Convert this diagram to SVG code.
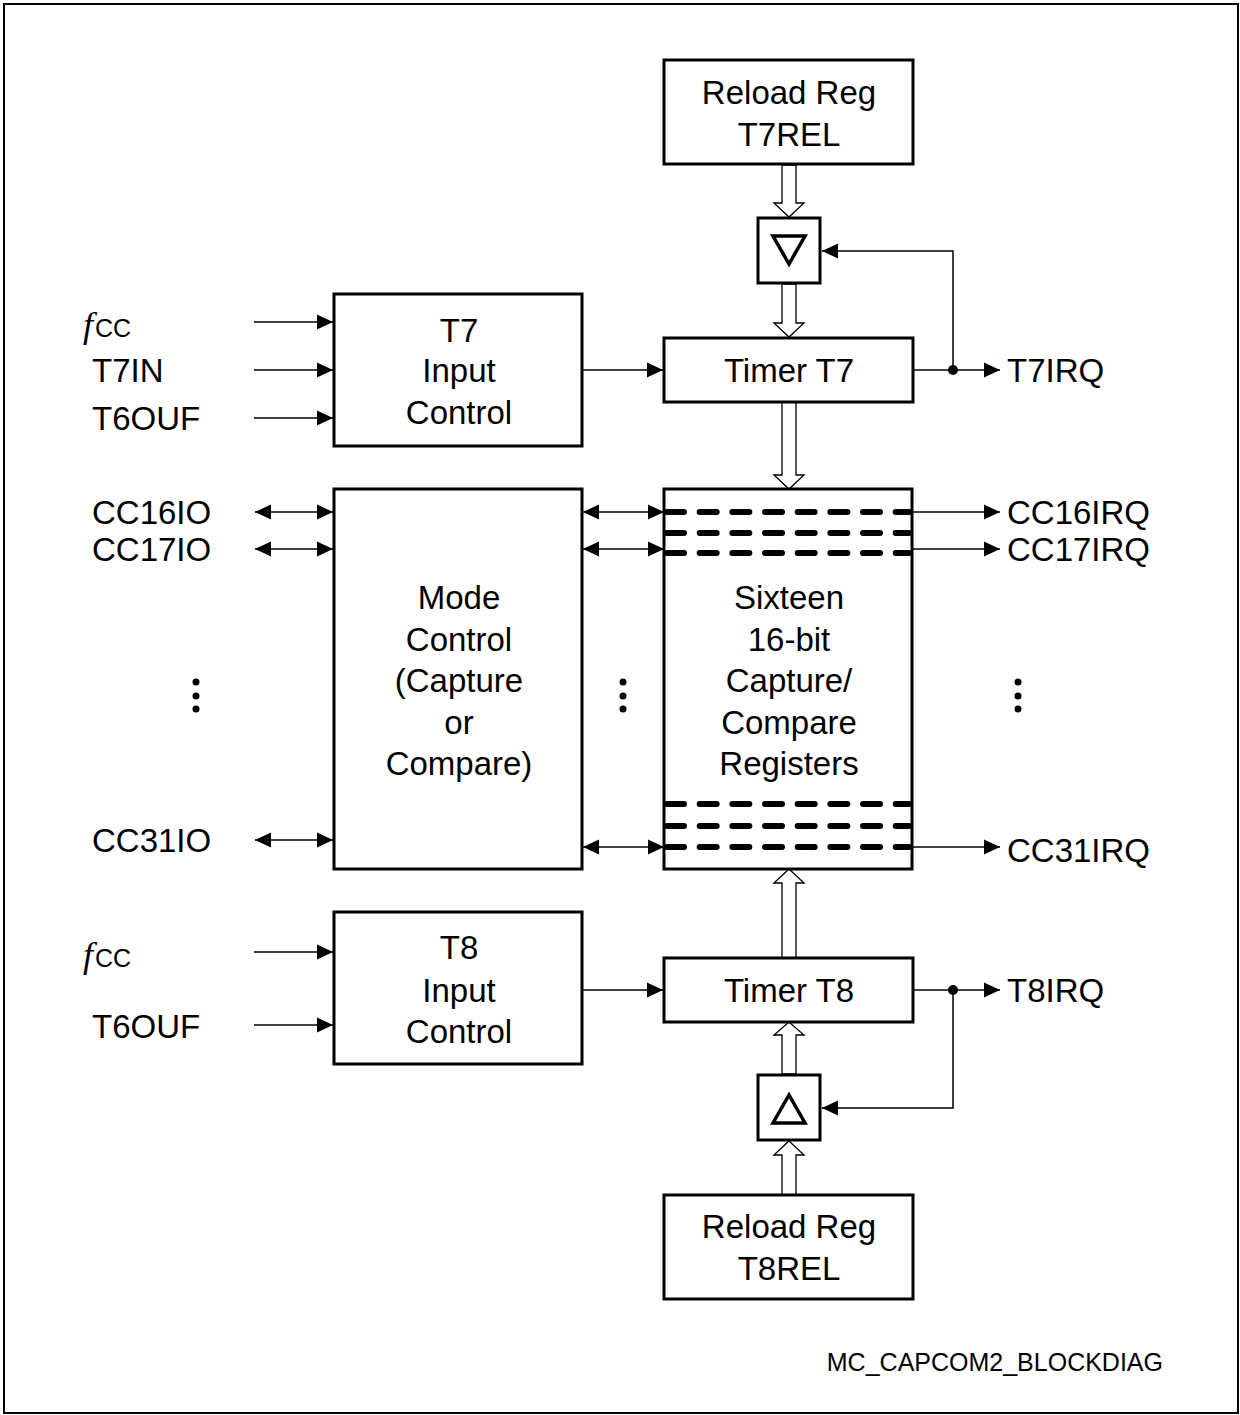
<svg xmlns="http://www.w3.org/2000/svg" width="1240" height="1415" viewBox="0 0 1240 1415">
<style>
.box{fill:#fff;stroke:#000;stroke-width:3}
.t{font-family:"Liberation Sans",Arial,sans-serif;font-size:33px;fill:#000}
.m{text-anchor:middle}
.ln{fill:none;stroke:#000;stroke-width:1.5}
.bus{fill:#fff;stroke:#000;stroke-width:1.3}
.dash{stroke:#000;stroke-width:6;stroke-linecap:round;stroke-dasharray:17 15.67}
.tri{fill:none;stroke:#000;stroke-width:3.5}
</style>
<defs>
<marker id="ah" markerUnits="userSpaceOnUse" markerWidth="17" markerHeight="16" refX="16" refY="8" orient="auto-start-reverse">
<path d="M0,0.5 L16,8 L0,15.5 z" fill="#000"/>
</marker>
</defs>
<rect x="4" y="4" width="1234" height="1409" fill="none" stroke="#000" stroke-width="2"/>

<g id="connectors">
<line class="ln" x1="254" y1="322" x2="333" y2="322" marker-end="url(#ah)"/>
<line class="ln" x1="254" y1="370" x2="333" y2="370" marker-end="url(#ah)"/>
<line class="ln" x1="254" y1="418" x2="333" y2="418" marker-end="url(#ah)"/>
<line class="ln" x1="582" y1="370" x2="663" y2="370" marker-end="url(#ah)"/>
<line class="ln" x1="913" y1="370" x2="1000" y2="370" marker-end="url(#ah)"/>
<path class="ln" d="M953,370 V251 H822" marker-end="url(#ah)"/>
<circle cx="953" cy="370" r="5"/>

<line class="ln" x1="254" y1="952" x2="333" y2="952" marker-end="url(#ah)"/>
<line class="ln" x1="254" y1="1025" x2="333" y2="1025" marker-end="url(#ah)"/>
<line class="ln" x1="582" y1="990" x2="663" y2="990" marker-end="url(#ah)"/>
<line class="ln" x1="913" y1="990" x2="1000" y2="990" marker-end="url(#ah)"/>
<path class="ln" d="M953,990 V1108 H822" marker-end="url(#ah)"/>
<circle cx="953" cy="990" r="5"/>

<line class="ln" x1="255" y1="512" x2="333" y2="512" marker-start="url(#ah)" marker-end="url(#ah)"/>
<line class="ln" x1="255" y1="549" x2="333" y2="549" marker-start="url(#ah)" marker-end="url(#ah)"/>
<line class="ln" x1="255" y1="840" x2="333" y2="840" marker-start="url(#ah)" marker-end="url(#ah)"/>
<line class="ln" x1="583" y1="512" x2="664" y2="512" marker-start="url(#ah)" marker-end="url(#ah)"/>
<line class="ln" x1="583" y1="549" x2="664" y2="549" marker-start="url(#ah)" marker-end="url(#ah)"/>
<line class="ln" x1="583" y1="847" x2="664" y2="847" marker-start="url(#ah)" marker-end="url(#ah)"/>
<line class="ln" x1="912" y1="512" x2="1000" y2="512" marker-end="url(#ah)"/>
<line class="ln" x1="912" y1="549" x2="1000" y2="549" marker-end="url(#ah)"/>
<line class="ln" x1="912" y1="847" x2="1000" y2="847" marker-end="url(#ah)"/>

<polygon class="bus" points="782,165 782,203 774,203 789,217 804,203 796,203 796,165"/>
<polygon class="bus" points="782,284 782,323 774,323 789,337 804,323 796,323 796,284"/>
<polygon class="bus" points="782,402 782,475 774,475 789,489 804,475 796,475 796,402"/>
<polygon class="bus" points="782,958 782,883 774,883 789,869 804,883 796,883 796,958"/>
<polygon class="bus" points="782,1074 782,1035 774,1035 789,1022 804,1035 796,1035 796,1074"/>
<polygon class="bus" points="782,1195 782,1155 774,1155 789,1141 804,1155 796,1155 796,1195"/>
</g>

<g id="t7rel">
<rect class="box" x="664" y="60" width="249" height="104"/>
<text class="t m" x="789" y="104">Reload Reg</text>
<text class="t m" x="789" y="146">T7REL</text>
</g>
<g id="dec7">
<rect class="box" x="758" y="218" width="62" height="65"/>
<polygon class="tri" points="773,236 805,236 789,264"/>
</g>
<g id="timer7">
<rect class="box" x="664" y="338" width="249" height="64"/>
<text class="t m" x="789" y="382">Timer T7</text>
</g>
<g id="t7in">
<rect class="box" x="334" y="294" width="248" height="152"/>
<text class="t m" x="459" y="342">T7</text>
<text class="t m" x="459" y="382">Input</text>
<text class="t m" x="459" y="424">Control</text>
</g>
<g id="mode">
<rect class="box" x="334" y="489" width="248" height="380"/>
<text class="t m" x="459" y="609">Mode</text>
<text class="t m" x="459" y="651">Control</text>
<text class="t m" x="459" y="692">(Capture</text>
<text class="t m" x="459" y="734">or</text>
<text class="t m" x="459" y="775">Compare)</text>
</g>
<g id="regs">
<rect class="box" x="664" y="489" width="248" height="380"/>
<line class="dash" x1="667" y1="512" x2="909" y2="512"/>
<line class="dash" x1="667" y1="533" x2="909" y2="533"/>
<line class="dash" x1="667" y1="553" x2="909" y2="553"/>
<line class="dash" x1="667" y1="804" x2="909" y2="804"/>
<line class="dash" x1="667" y1="826" x2="909" y2="826"/>
<line class="dash" x1="667" y1="847" x2="909" y2="847"/>
<text class="t m" x="789" y="609">Sixteen</text>
<text class="t m" x="789" y="651">16-bit</text>
<text class="t m" x="789" y="692">Capture/</text>
<text class="t m" x="789" y="734">Compare</text>
<text class="t m" x="789" y="775">Registers</text>
</g>
<g id="t8in">
<rect class="box" x="334" y="912" width="248" height="152"/>
<text class="t m" x="459" y="959">T8</text>
<text class="t m" x="459" y="1002">Input</text>
<text class="t m" x="459" y="1043">Control</text>
</g>
<g id="timer8">
<rect class="box" x="664" y="958" width="249" height="64"/>
<text class="t m" x="789" y="1002">Timer T8</text>
</g>
<g id="inc8">
<rect class="box" x="758" y="1075" width="62" height="65"/>
<polygon class="tri" points="789,1095 805,1123 773,1123"/>
</g>
<g id="t8rel">
<rect class="box" x="664" y="1195" width="249" height="104"/>
<text class="t m" x="789" y="1238">Reload Reg</text>
<text class="t m" x="789" y="1280">T8REL</text>
</g>

<g id="labels">
<text x="83" y="337"><tspan font-family="'Liberation Serif',serif" font-style="italic" font-size="36">f</tspan><tspan font-family="'Liberation Sans',sans-serif" font-size="25" dx="2">CC</tspan></text>
<text class="t" x="92" y="382">T7IN</text>
<text class="t" x="92" y="430">T6OUF</text>
<text class="t" x="92" y="524">CC16IO</text>
<text class="t" x="92" y="561">CC17IO</text>
<text class="t" x="92" y="852">CC31IO</text>
<text x="83" y="967"><tspan font-family="'Liberation Serif',serif" font-style="italic" font-size="36">f</tspan><tspan font-family="'Liberation Sans',sans-serif" font-size="25" dx="2">CC</tspan></text>
<text class="t" x="92" y="1038">T6OUF</text>
<text class="t" x="1007" y="382">T7IRQ</text>
<text class="t" x="1007" y="524">CC16IRQ</text>
<text class="t" x="1007" y="561">CC17IRQ</text>
<text class="t" x="1007" y="862">CC31IRQ</text>
<text class="t" x="1007" y="1002">T8IRQ</text>
<text x="1163" y="1371" text-anchor="end" font-family="'Liberation Sans',Arial,sans-serif" font-size="25">MC_CAPCOM2_BLOCKDIAG</text>
</g>
<g id="dots">
<circle cx="196" cy="682" r="3.5"/><circle cx="196" cy="696" r="3.5"/><circle cx="196" cy="709" r="3.5"/>
<circle cx="623" cy="682" r="3.5"/><circle cx="623" cy="696" r="3.5"/><circle cx="623" cy="709" r="3.5"/>
<circle cx="1018" cy="682" r="3.5"/><circle cx="1018" cy="696" r="3.5"/><circle cx="1018" cy="709" r="3.5"/>
</g>
</svg>
